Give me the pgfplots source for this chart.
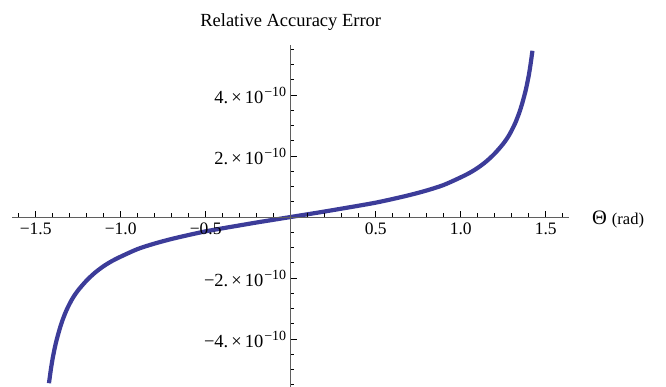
\documentclass[border=0pt]{standalone}
\usepackage{fontspec}
\setmainfont{Liberation Serif}
\usepackage{pgfplots}
\usepackage{pgfplotstable}
\pgfplotsset{compat=1.18}

\definecolor{curveblue}{RGB}{60,60,153}
\definecolor{axisgray}{RGB}{95,95,95}

% relative accuracy error, in units of 1e-10, against angle in rad
\pgfplotstableread{
x y
-1.422 -5.45
-1.41 -4.97
-1.40 -4.63
-1.39 -4.35
-1.38 -4.10
-1.36 -3.69
-1.34 -3.35
-1.32 -3.07
-1.30 -2.84
-1.28 -2.64
-1.25 -2.40
-1.20 -2.08
-1.15 -1.82
-1.10 -1.61
-1.05 -1.44
-1.00 -1.30
-0.90 -1.05
-0.80 -0.87
-0.70 -0.72
-0.60 -0.59
-0.50 -0.47
-0.40 -0.37
-0.30 -0.275
-0.20 -0.18
-0.10 -0.09
0.00 0.00
0.10 0.09
0.20 0.18
0.30 0.275
0.40 0.37
0.50 0.47
0.60 0.59
0.70 0.72
0.80 0.87
0.90 1.05
1.00 1.30
1.05 1.44
1.10 1.61
1.15 1.82
1.20 2.08
1.25 2.40
1.28 2.64
1.30 2.84
1.32 3.07
1.34 3.35
1.36 3.69
1.38 4.10
1.39 4.35
1.40 4.63
1.41 4.97
1.422 5.45
}\errdata

% tick label of the form  m. x 10^-10
\newcommand{\sci}[1]{#1.{\kern3pt}×{\kern3pt}10{\kern1pt}\raisebox{7pt}{\fontsize{14}{14}\selectfont −10}}

\begin{document}
\begin{tikzpicture}
\useasboundingbox (-290.7pt,-170pt) rectangle (375.3pt,217pt);
\begin{axis}[
  at={(0,0)}, anchor=origin,
  x=170pt, y=30.5pt,
  xmin=-1.637, xmax=1.637,
  ymin=-5.6, ymax=5.64,
  axis lines=middle,
  axis line style={-, draw=axisgray, line width=0.9pt},
  axis on top,
  tick align=inside,
  major tick length=6pt,
  minor tick length=3.5pt,
  every tick/.style={black, line width=0.6pt},
  xtick={-1.5,-1,-0.5,0.5,1,1.5},
  xticklabels={−1.5,−1.0,−0.5,0.5,1.0,1.5},
  minor xtick={-1.6,-1.4,-1.3,-1.2,-1.1,-0.9,-0.8,-0.7,-0.6,-0.4,-0.3,-0.2,-0.1,
               0.1,0.2,0.3,0.4,0.6,0.7,0.8,0.9,1.1,1.2,1.3,1.4,1.6},
  ytick={-4,-2,2,4},
  yticklabels={\sci{−4},\sci{−2},\sci{2},\sci{4}},
  minor ytick={-5.5,-5,-4.5,-3.5,-3,-2.5,-1.5,-1,-0.5,
               0.5,1,1.5,2.5,3,3.5,4.5,5,5.5},
  xticklabel style={font=\fontsize{17.5}{17.5}\selectfont, yshift=-2pt},
  yticklabel style={font=\fontsize{18.5}{18.5}\selectfont, xshift=-1pt},
  clip=false,
]
\addplot[curveblue, line width=4.2pt, smooth] table {\errdata};
\node[anchor=base, inner sep=0pt, yshift=18pt, font=\fontsize{18.5}{18.5}\selectfont]
  at (axis cs:0,5.64) {Relative Accuracy Error};
\node[anchor=base west, inner sep=0pt, xshift=23pt, yshift=-8pt]
  at (axis cs:1.637,0) {{\fontsize{20.5}{20.5}\selectfont Θ}\hspace{5pt}{\fontsize{16.5}{16.5}\selectfont (rad)}};
\end{axis}
\end{tikzpicture}
\end{document}
